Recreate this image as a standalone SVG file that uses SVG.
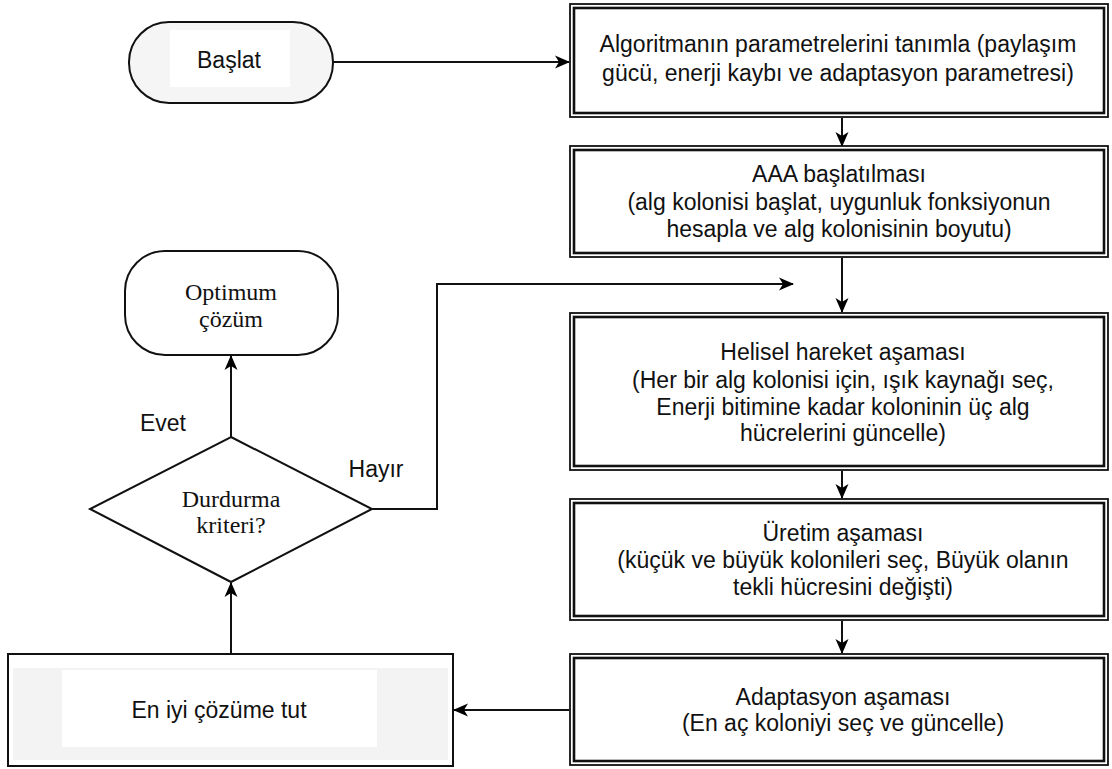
<svg xmlns="http://www.w3.org/2000/svg" width="1112" height="769" viewBox="0 0 1112 769">
<defs>
<marker id="arr" markerWidth="16" markerHeight="16" refX="14" refY="8" orient="auto" markerUnits="userSpaceOnUse">
<path d="M0,1.5 L15,8 L0,14.5 L4,8 Z" fill="#000"/>
</marker>
<style>
.outer{fill:#fff;stroke:#111;stroke-width:1.8}
.inner{fill:none;stroke:#111;stroke-width:2.6}
.sans{font-family:"Liberation Sans",Arial,sans-serif;font-size:23px;fill:#111;text-anchor:middle}
.serif{font-family:"Liberation Serif","Times New Roman",serif;font-size:24px;fill:#111;text-anchor:middle}
.conn{fill:none;stroke:#111;stroke-width:2;marker-end:url(#arr)}
</style>
</defs>
<rect width="1112" height="769" fill="#fff"/>
<g id="connectors">
<line class="conn" x1="333" y1="62" x2="569" y2="62"/>
<line class="conn" x1="842" y1="118" x2="842" y2="146"/>
<line class="conn" x1="842" y1="258" x2="842" y2="312"/>
<line class="conn" x1="842" y1="471" x2="842" y2="498"/>
<line class="conn" x1="842" y1="621" x2="842" y2="653"/>
<line class="conn" x1="569" y1="710" x2="454" y2="710"/>
<line class="conn" x1="231" y1="653" x2="231" y2="583"/>
<line class="conn" x1="231" y1="437" x2="231" y2="356"/>
<polyline class="conn" points="372,509 437,509 437,284 793,284"/>
</g>
<g id="start">
<rect x="129" y="22" width="204" height="81" rx="40" fill="#f5f5f5" stroke="#111" stroke-width="2"/>
<rect x="170" y="30" width="120" height="57" fill="#fff"/>
<text class="sans" x="229" y="68">Başlat</text>
</g>
<g id="box1">
<rect class="outer" x="570" y="4" width="538" height="113"/>
<rect class="inner" x="574" y="8" width="530" height="105"/>
<text class="sans" x="838" y="52">Algoritmanın parametrelerini tanımla (paylaşım</text>
<text class="sans" x="838" y="81">gücü, enerji kaybı ve adaptasyon parametresi)</text>
</g>
<g id="box2">
<rect class="outer" x="570" y="146" width="538" height="111"/>
<rect class="inner" x="574" y="150" width="530" height="103"/>
<text class="sans" x="839" y="182">AAA başlatılması</text>
<text class="sans" x="839" y="210">(alg kolonisi başlat, uygunluk fonksiyonun</text>
<text class="sans" x="839" y="237">hesapla ve alg kolonisinin boyutu)</text>
</g>
<g id="box3">
<rect class="outer" x="570" y="313" width="538" height="157"/>
<rect class="inner" x="574" y="317" width="530" height="149"/>
<text class="sans" x="843" y="360">Helisel hareket aşaması</text>
<text class="sans" x="843" y="388">(Her bir alg kolonisi için, ışık kaynağı seç,</text>
<text class="sans" x="843" y="415">Enerji bitimine kadar koloninin üç alg</text>
<text class="sans" x="843" y="441">hücrelerini güncelle)</text>
</g>
<g id="box4">
<rect class="outer" x="570" y="499" width="538" height="121"/>
<rect class="inner" x="574" y="503" width="530" height="113"/>
<text class="sans" x="843" y="541">Üretim aşaması</text>
<text class="sans" x="843" y="568">(küçük ve büyük kolonileri seç, Büyük olanın</text>
<text class="sans" x="843" y="595">tekli hücresini değişti)</text>
</g>
<g id="box5">
<rect class="outer" x="570" y="654" width="538" height="111"/>
<rect class="inner" x="574" y="658" width="530" height="103"/>
<text class="sans" x="843" y="705">Adaptasyon aşaması</text>
<text class="sans" x="843" y="731">(En aç koloniyi seç ve güncelle)</text>
</g>
<g id="best">
<rect x="8" y="654" width="445" height="112" fill="#fff" stroke="#111" stroke-width="2"/>
<rect x="13" y="668" width="435" height="92" fill="#f3f3f3"/>
<rect x="62" y="670" width="315" height="77" fill="#fff"/>
<text class="sans" x="219" y="718">En iyi çözüme tut</text>
</g>
<g id="decision">
<polygon points="231,437 372,509 231,582 90,509" fill="#fff" stroke="#111" stroke-width="2"/>
<text class="serif" x="231" y="507">Durdurma</text>
<text class="serif" x="231" y="533">kriteri?</text>
</g>
<g id="optimum">
<rect x="125" y="251" width="213" height="104" rx="40" fill="#fff" stroke="#111" stroke-width="2"/>
<text class="serif" x="231" y="300">Optimum</text>
<text class="serif" x="231" y="327">çözüm</text>
</g>
<g id="labels">
<text class="sans" x="163" y="431">Evet</text>
<text class="sans" x="376" y="477">Hayır</text>
</g>
</svg>
